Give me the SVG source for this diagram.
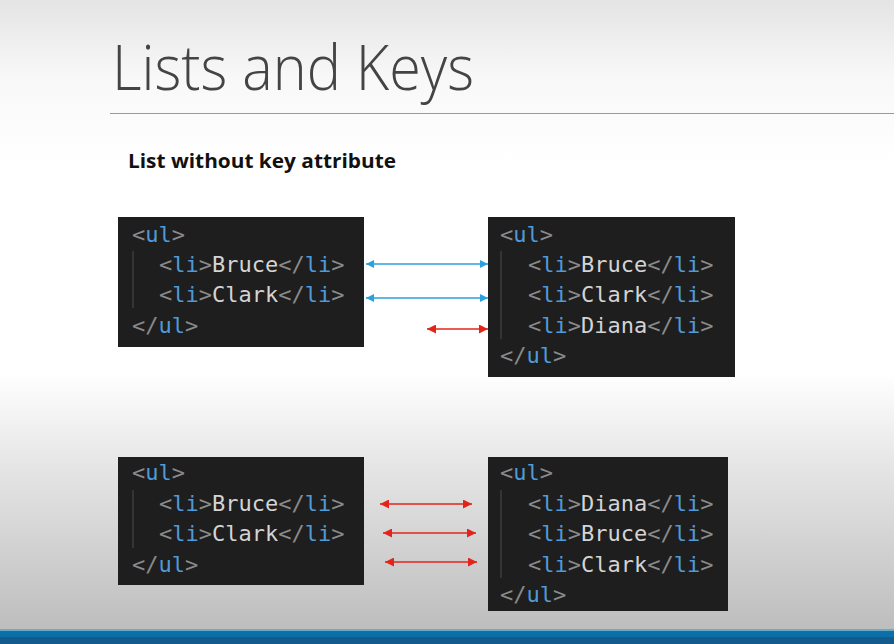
<svg xmlns="http://www.w3.org/2000/svg" width="894" height="644" viewBox="0 0 894 644">
  <defs>
    <linearGradient id="bg" x1="0" y1="0" x2="0" y2="1">
      <stop offset="0" stop-color="#e4e4e4"/>
      <stop offset="0.12" stop-color="#f8f8f8"/>
      <stop offset="0.25" stop-color="#ffffff"/>
      <stop offset="0.58" stop-color="#ffffff"/>
      <stop offset="0.72" stop-color="#e6e6e6"/>
      <stop offset="1" stop-color="#bababa"/>
    </linearGradient>
    <marker id="hb" viewBox="0 0 10 10" refX="10" refY="5" markerWidth="8" markerHeight="8" markerUnits="userSpaceOnUse" orient="auto-start-reverse">
      <path d="M0,0 L10,5 L0,10 z" fill="#2aa1dc"/>
    </marker>
    <marker id="hr" viewBox="0 0 10 10" refX="10" refY="5" markerWidth="9" markerHeight="9" markerUnits="userSpaceOnUse" orient="auto-start-reverse">
      <path d="M0,0 L10,5 L0,10 z" fill="#e3241b"/>
    </marker>
    <style>
      .box { fill: #1e1e1e; }
      .guide { stroke: #444; stroke-width: 1.2; }
      .code { font-family: "DejaVu Sans Mono", "Liberation Mono", monospace; font-size: 22px; }
      .p { fill: #8a8a8a; }
      .t { fill: #4f9ad8; }
      .v { fill: #d4d4d4; }
      .blue { stroke: #2aa1dc; stroke-width: 1.5; marker-start: url(#hb); marker-end: url(#hb); }
      .red { stroke: #e3241b; stroke-width: 1.5; marker-start: url(#hr); marker-end: url(#hr); }
    </style>
  </defs>

  <!-- slide background -->
  <rect x="0" y="0" width="894" height="644" fill="url(#bg)"/>
  <rect x="0" y="629" width="894" height="2" fill="#6aa9c8"/>
  <rect x="0" y="631" width="894" height="6" fill="#0b6fa8"/>
  <rect x="0" y="637" width="894" height="7" fill="#155a8c"/>

  <!-- heading -->
  <text x="112" y="90" font-family="Open Sans, Liberation Sans, sans-serif" font-weight="300" font-size="62" fill="#444" textLength="362" lengthAdjust="spacingAndGlyphs">Lists and Keys</text>
  <line x1="110" y1="113.5" x2="894" y2="113.5" stroke="#9a9a9a" stroke-width="1"/>
  <text x="128" y="168" font-family="Open Sans, Liberation Sans, sans-serif" font-weight="700" font-size="19" fill="#111" textLength="268" lengthAdjust="spacingAndGlyphs">List without key attribute</text>

  <!-- old list, no key -->
  <g id="list-old-1">
    <rect class="box" x="118" y="217" width="246" height="130"/>
    <line class="guide" x1="133" y1="251" x2="133" y2="308"/>
    <text class="code" x="132" y="242"><tspan class="p">&lt;</tspan><tspan class="t">ul</tspan><tspan class="p">&gt;</tspan></text>
    <text class="code" x="159" y="272"><tspan class="p">&lt;</tspan><tspan class="t">li</tspan><tspan class="p">&gt;</tspan><tspan class="v">Bruce</tspan><tspan class="p">&lt;/</tspan><tspan class="t">li</tspan><tspan class="p">&gt;</tspan></text>
    <text class="code" x="159" y="302"><tspan class="p">&lt;</tspan><tspan class="t">li</tspan><tspan class="p">&gt;</tspan><tspan class="v">Clark</tspan><tspan class="p">&lt;/</tspan><tspan class="t">li</tspan><tspan class="p">&gt;</tspan></text>
    <text class="code" x="132" y="333"><tspan class="p">&lt;/</tspan><tspan class="t">ul</tspan><tspan class="p">&gt;</tspan></text>
  </g>

  <!-- new list, appended item -->
  <g id="list-new-1">
    <rect class="box" x="488" y="217" width="247" height="160"/>
    <line class="guide" x1="501" y1="251" x2="501" y2="339"/>
    <text class="code" x="500" y="242"><tspan class="p">&lt;</tspan><tspan class="t">ul</tspan><tspan class="p">&gt;</tspan></text>
    <text class="code" x="528" y="272"><tspan class="p">&lt;</tspan><tspan class="t">li</tspan><tspan class="p">&gt;</tspan><tspan class="v">Bruce</tspan><tspan class="p">&lt;/</tspan><tspan class="t">li</tspan><tspan class="p">&gt;</tspan></text>
    <text class="code" x="528" y="302"><tspan class="p">&lt;</tspan><tspan class="t">li</tspan><tspan class="p">&gt;</tspan><tspan class="v">Clark</tspan><tspan class="p">&lt;/</tspan><tspan class="t">li</tspan><tspan class="p">&gt;</tspan></text>
    <text class="code" x="528" y="333"><tspan class="p">&lt;</tspan><tspan class="t">li</tspan><tspan class="p">&gt;</tspan><tspan class="v">Diana</tspan><tspan class="p">&lt;/</tspan><tspan class="t">li</tspan><tspan class="p">&gt;</tspan></text>
    <text class="code" x="500" y="363"><tspan class="p">&lt;/</tspan><tspan class="t">ul</tspan><tspan class="p">&gt;</tspan></text>
  </g>

  <!-- old list, second case -->
  <g id="list-old-2">
    <rect class="box" x="118" y="457" width="246" height="128"/>
    <line class="guide" x1="133" y1="490" x2="133" y2="548"/>
    <text class="code" x="132" y="480"><tspan class="p">&lt;</tspan><tspan class="t">ul</tspan><tspan class="p">&gt;</tspan></text>
    <text class="code" x="159" y="511"><tspan class="p">&lt;</tspan><tspan class="t">li</tspan><tspan class="p">&gt;</tspan><tspan class="v">Bruce</tspan><tspan class="p">&lt;/</tspan><tspan class="t">li</tspan><tspan class="p">&gt;</tspan></text>
    <text class="code" x="159" y="541"><tspan class="p">&lt;</tspan><tspan class="t">li</tspan><tspan class="p">&gt;</tspan><tspan class="v">Clark</tspan><tspan class="p">&lt;/</tspan><tspan class="t">li</tspan><tspan class="p">&gt;</tspan></text>
    <text class="code" x="132" y="572"><tspan class="p">&lt;/</tspan><tspan class="t">ul</tspan><tspan class="p">&gt;</tspan></text>
  </g>

  <!-- new list, prepended item -->
  <g id="list-new-2">
    <rect class="box" x="488" y="457" width="240" height="154"/>
    <line class="guide" x1="501" y1="490" x2="501" y2="578"/>
    <text class="code" x="500" y="480"><tspan class="p">&lt;</tspan><tspan class="t">ul</tspan><tspan class="p">&gt;</tspan></text>
    <text class="code" x="528" y="511"><tspan class="p">&lt;</tspan><tspan class="t">li</tspan><tspan class="p">&gt;</tspan><tspan class="v">Diana</tspan><tspan class="p">&lt;/</tspan><tspan class="t">li</tspan><tspan class="p">&gt;</tspan></text>
    <text class="code" x="528" y="541"><tspan class="p">&lt;</tspan><tspan class="t">li</tspan><tspan class="p">&gt;</tspan><tspan class="v">Bruce</tspan><tspan class="p">&lt;/</tspan><tspan class="t">li</tspan><tspan class="p">&gt;</tspan></text>
    <text class="code" x="528" y="572"><tspan class="p">&lt;</tspan><tspan class="t">li</tspan><tspan class="p">&gt;</tspan><tspan class="v">Clark</tspan><tspan class="p">&lt;/</tspan><tspan class="t">li</tspan><tspan class="p">&gt;</tspan></text>
    <text class="code" x="500" y="602"><tspan class="p">&lt;/</tspan><tspan class="t">ul</tspan><tspan class="p">&gt;</tspan></text>
  </g>

  <!-- element matching between renders -->
  <g id="connectors">
    <line class="blue" x1="366" y1="264" x2="488" y2="264"/>
    <line class="blue" x1="366" y1="298" x2="488" y2="298"/>
    <line class="red" x1="427" y1="329" x2="488" y2="329"/>
    <line class="red" x1="380" y1="504" x2="472" y2="504"/>
    <line class="red" x1="383" y1="533" x2="476" y2="533"/>
    <line class="red" x1="385" y1="562" x2="477" y2="562"/>
  </g>
</svg>
